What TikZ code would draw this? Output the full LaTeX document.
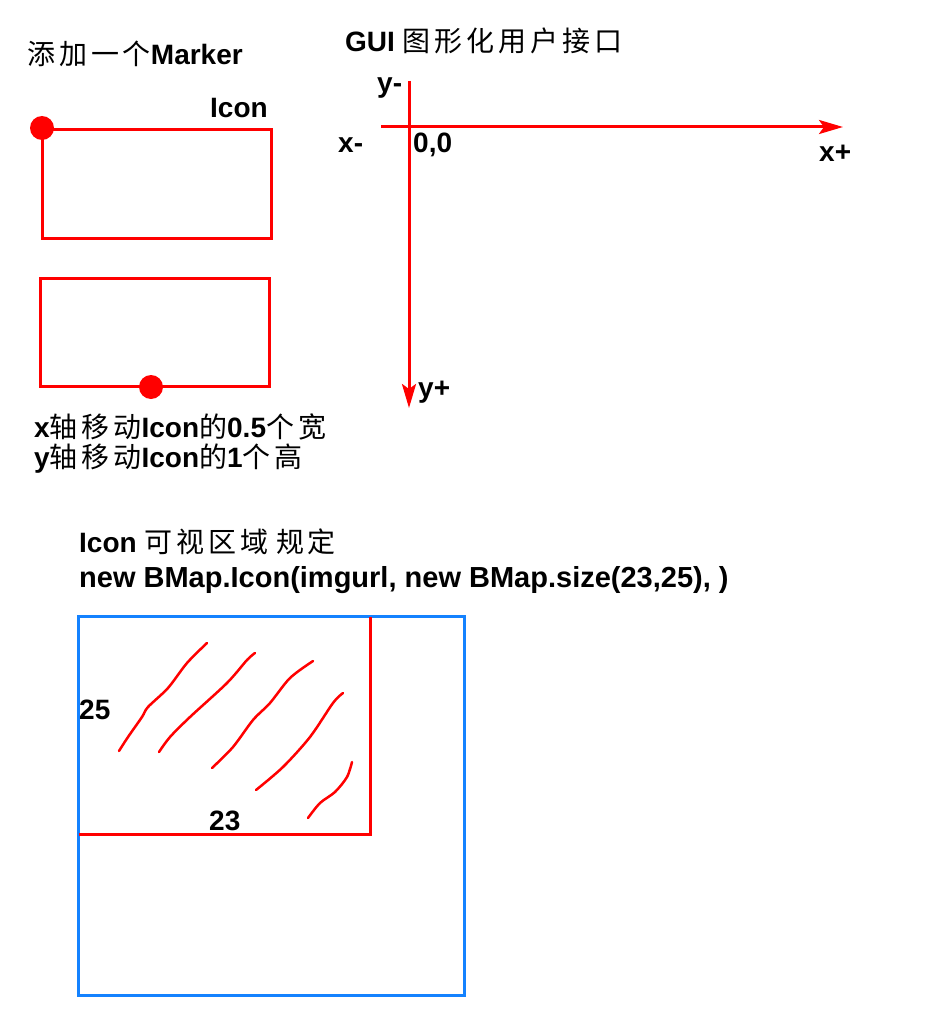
\documentclass[tikz,border=0pt]{standalone}
\usepackage{fontspec}
\setmainfont{Liberation Sans}
\newfontfamily\cjk[LetterSpace=14]{Noto Sans CJK SC}
\usetikzlibrary{arrows.meta}
\definecolor{iconblue}{RGB}{20,130,255}
\definecolor{pured}{RGB}{255,0,0}
\tikzset{
  lbl/.style={inner sep=0pt, anchor=base west, font=\bfseries\fontsize{28}{31}\selectfont},
  biglbl/.style={lbl, font=\bfseries\fontsize{29}{32}\selectfont},
  redbox/.style={draw=pured, line width=3pt},
  bluebox/.style={draw=iconblue, line width=3pt},
  dotmark/.style={circle, fill=pured, inner sep=0pt, minimum size=24pt},
  axis/.style={draw=pured, line width=3pt, -{Stealth[length=24pt,width=14pt,inset=5pt]}},
  hatch/.style={draw=pured, line width=2.5pt, line cap=round, line join=round}
}
\newcommand{\zh}[1]{{\mdseries\cjk #1}}
\begin{document}
\begin{tikzpicture}[x=1pt,y=-1pt]
\useasboundingbox (0,0) rectangle (949,1027);
% Titles
\node[lbl] (t1) at (27,65) {\zh{添加一个}Marker};
\node[lbl] (t2) at (345,52) {GUI \zh{图形化用户接口}};
% first icon
\node[lbl] (icon1) at (210,118) {Icon};
\draw[redbox] (42,130) rectangle (271,238);
\node[dotmark] (m1) at (42,128) {};
% second icon
\draw[redbox] (40,278) rectangle (269,386);
\node[dotmark] (m2) at (151,387) {};
\node[lbl] (d1) at (34,437) {x\zh{轴移动}Icon\zh{的}0.5\zh{个宽}};
\node[lbl] (d2) at (34,467) {y\zh{轴移动}Icon\zh{的}1\zh{个高}};
% axes
\coordinate (ystart) at (409,81);
\coordinate (yend) at (409,408);
\coordinate (xstart) at (381,127);
\coordinate (xend) at (843,127);
\draw[axis] (ystart) -- (yend);
\draw[axis] (xstart) -- (xend);
\node[lbl] (ym) at (377,93) {y-};
\node[lbl] (xm) at (338,153) {x-};
\node[lbl] (org) at (413,153) {0,0};
\node[lbl] (xp) at (819,162) {x+};
\node[lbl] (yp) at (418,397) {y+};
% bottom section
\node[lbl] (t3) at (79,552) {Icon \zh{可视区域} \zh{规定}};
\node[biglbl] (t4) at (79,587) {new BMap.Icon(imgurl, new BMap.size(23,25), )};
\draw[bluebox] (78,616) rectangle (464,995);
\draw[redbox] (370,617) -- (370,834) -- (79,834);
\node[lbl] (h) at (79,719) {25};
\node[lbl] (w) at (209,830) {23};
% hatching
\draw[hatch] plot[smooth] coordinates {(119,751) (128,737) (142,717) (148,707) (168,688) (187,663) (207,643)};
\draw[hatch] plot[smooth] coordinates {(159,752) (170,737) (190,717) (227,683) (247,660) (255,653)};
\draw[hatch] plot[smooth] coordinates {(212,768) (233,747) (253,720) (270,703) (290,678) (313,661)};
\draw[hatch] plot[smooth] coordinates {(256,790) (283,767) (310,737) (333,703) (343,693)};
\draw[hatch] plot[smooth] coordinates {(308,818) (320,803) (335,792) (347,777) (352,762)};
\end{tikzpicture}
\end{document}
